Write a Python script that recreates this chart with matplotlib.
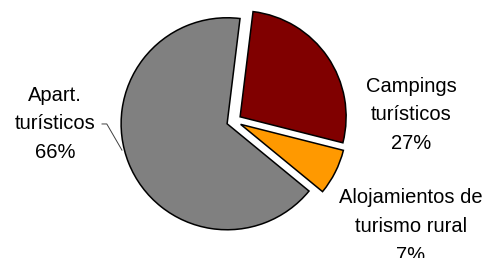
import matplotlib.pyplot as plt

# data
labels = ['Campings\nturísticos\n27%', 'Alojamientos de\nturismo rural\n7%', 'Apart.\nturísticos\n66%']
values = [27, 7, 66]
colors = ['#800000', '#FF9900', '#808080']

plt.rcParams['font.family'] = ['Liberation Sans', 'DejaVu Sans']

fig = plt.figure(figsize=(4.87, 2.58), dpi=100)
ax = fig.add_axes([0, 0, 1, 1])

ax.pie(values, colors=colors, startangle=83, counterclock=False,
       explode=[0.07] * 3, radius=1.0,
       wedgeprops=dict(edgecolor='black', linewidth=1.1))

# axes limits so that the pie centre sits at (234, 121) px with radius 106 px
ax.set_xlim(-234 / 106, (487 - 234) / 106)
ax.set_ylim(-137 / 106, (258 - 137) / 106)
ax.set_aspect('auto')
ax.axis('off')

fs = 14.5
ls = 1.64
ax.text(1.670, 0.060, labels[0], ha='center', va='center', fontsize=fs, linespacing=ls)
ax.text(1.670, -0.995, labels[1], ha='center', va='center', fontsize=fs, linespacing=ls)
ax.text(-1.689, -0.028, labels[2], ha='center', va='center', fontsize=fs, linespacing=ls)

# leader line for the grey slice
ax.plot([-1.245, -1.20, -1.057], [-0.028, -0.028, -0.275], color='#404040', lw=0.7)

fig.savefig('out.png', dpi=100)
